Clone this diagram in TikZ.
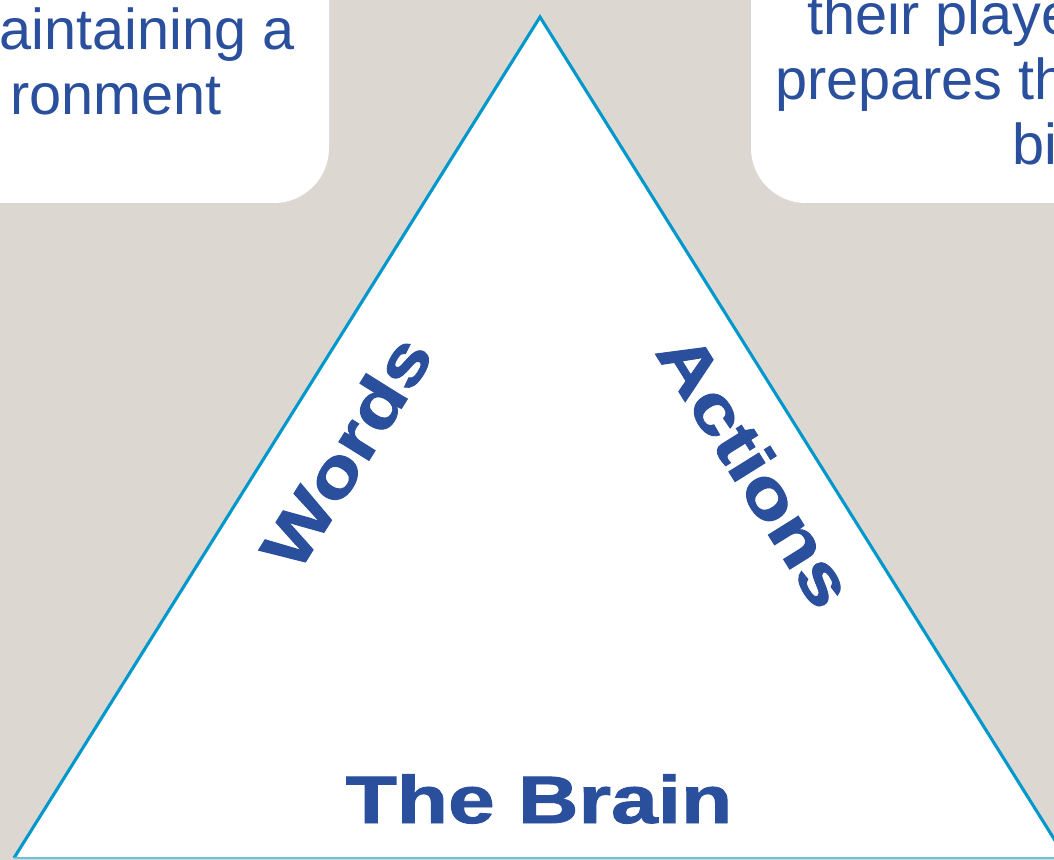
\documentclass[tikz,border=0pt]{standalone}
\usepackage{fontspec}
\setmainfont{Liberation Sans}
\newfontfamily\heavyfont[FakeBold=1.3]{Liberation Sans Bold}
\usepackage{graphicx}
\usepackage{tikz}

\definecolor{backgr}{HTML}{DCD8D1}
\definecolor{textblue}{HTML}{2A4F9C}
\definecolor{edgeblue}{HTML}{0098CC}
\definecolor{baseblue}{HTML}{6CC0DF}

\tikzset{
  box/.style={fill=white, rounded corners=1.375cm},
  lighttext/.style={text=textblue, inner sep=0pt, font=\fontsize{41}{46}\selectfont},
  label/.style={text=textblue, inner sep=0pt, font=\fontsize{47.7}{50}\heavyfont},
  side/.style={draw=edgeblue, line width=2.2pt},
  baseline/.style={draw=baseblue, line width=1.5pt}
}

\begin{document}
\begin{tikzpicture}[x=0.025cm, y=-0.025cm]

    \useasboundingbox (0,0) rectangle (1054,860);

    % Background
    \fill[backgr] (0,0) rectangle (1054,860);

    % Text boxes
    \fill[box] (-80,-80) rectangle (329,203);
    \fill[box] (751,-80) rectangle (1140,203);

    \node[lighttext, anchor=base east] (left1) at (295,50) {aintaining a};
    \node[lighttext, anchor=base east] (left2) at (222,115) {ronment};

    \node[lighttext, anchor=base west] (right1) at (807,35) {their playe};
    \node[lighttext, anchor=base west] (right2) at (775,100) {prepares th};
    \node[lighttext, anchor=base west] (right3) at (1012,165) {bi};

    % Triangle
    \coordinate (A) at (540,17);
    \coordinate (B) at (14,858);
    \coordinate (C) at (1066,858);
    \fill[white] (A) -- (B) -- (C) -- cycle;
    \draw[side] (B) -- (A) -- (C);
    \draw[baseline] (B) -- (C);

    % Labels
    \node[label, rotate=58] (words) at (346,452) {\scalebox{1.25}[1]{Words}};
    \node[label, rotate=-58] (actions) at (756,470) {\scalebox{1.25}[1]{Actions}};
    \node[label, anchor=base] (brain) at (539,823) {\scalebox{1.25}[1]{The Brain}};

\end{tikzpicture}
\end{document}
